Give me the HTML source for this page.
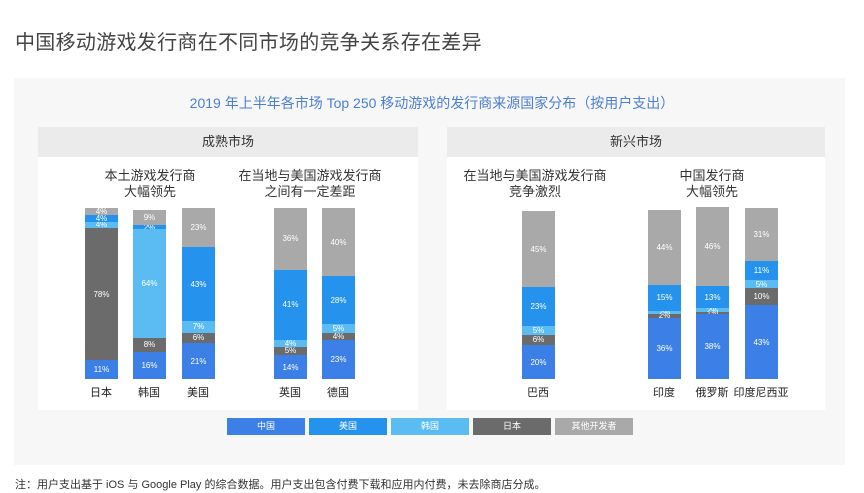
<!DOCTYPE html>
<html><head><meta charset="utf-8"><style>
*{margin:0;padding:0;box-sizing:border-box}
body{width:864px;height:493px;background:#fff;position:relative;overflow:hidden;font-family:"Liberation Sans","Noto Sans CJK SC",sans-serif}
.abs{position:absolute}
.title{left:15px;top:26px;font-size:20px;color:#444;letter-spacing:0.3px}
.outer{left:14px;top:78px;width:831px;height:387px;background:#f7f7f8}
.sub{left:0;width:864px;top:93px;text-align:center;font-size:14px;color:#4a7fd4}
.panel{top:127px;height:283px;background:#fff}
.ph{position:absolute;left:0;right:0;top:0;height:30px;background:#ebebeb;text-align:center;font-size:13px;line-height:30px;color:#333}
.grp{font-size:13px;color:#333;text-align:center;line-height:16px}
.bar{position:absolute;width:33px;top:208px;height:171px;display:flex;flex-direction:column}
.bar div{color:#fff;font-size:8px;display:flex;align-items:center;justify-content:center;overflow:hidden}
.o{background:#a9a9a9}.u{background:#2592ee}.k{background:#5bbcf4}.j{background:#6b6b6b}.c{background:#3c7fe6}
.lab{position:absolute;top:384px;font-size:11px;color:#222;width:80px;text-align:center}
.lg{position:absolute;top:418px;width:78px;height:17px;color:#fff;font-size:9px;text-align:center;line-height:17px}
.note{left:15px;top:476px;font-size:11px;color:#333}
</style></head><body>
<div class="abs title">中国移动游戏发行商在不同市场的竞争关系存在差异</div>
<div class="abs outer"></div>
<div class="abs sub">2019 年上半年各市场 Top 250 移动游戏的发行商来源国家分布（按用户支出）</div>
<div class="abs panel" style="left:38px;width:380px"><div class="ph">成熟市场</div></div>
<div class="abs panel" style="left:447px;width:378px"><div class="ph">新兴市场</div></div>
<div class="abs grp" style="left:70px;width:160px;top:168px">本土游戏发行商<br>大幅领先</div>
<div class="abs grp" style="left:230px;width:160px;top:168px">在当地与美国游戏发行商<br>之间有一定差距</div>
<div class="abs grp" style="left:455px;width:160px;top:168px">在当地与美国游戏发行商<br>竞争激烈</div>
<div class="abs grp" style="left:632px;width:160px;top:168px">中国发行商<br>大幅领先</div>

<div class="bar" style="left:85px"><div class="o" style="flex:4">4%</div><div class="u" style="flex:4">4%</div><div class="k" style="flex:4">4%</div><div class="j" style="flex:78">78%</div><div class="c" style="flex:11">11%</div></div>
<div class="bar" style="left:133px;top:210px;height:169px"><div class="o" style="flex:9">9%</div><div class="u" style="flex:2">2%</div><div class="k" style="flex:64">64%</div><div class="j" style="flex:8">8%</div><div class="c" style="flex:16">16%</div></div>
<div class="bar" style="left:182px"><div class="o" style="flex:23">23%</div><div class="u" style="flex:43">43%</div><div class="k" style="flex:7">7%</div><div class="j" style="flex:6">6%</div><div class="c" style="flex:21">21%</div></div>
<div class="bar" style="left:274px"><div class="o" style="flex:36">36%</div><div class="u" style="flex:41">41%</div><div class="k" style="flex:4">4%</div><div class="j" style="flex:5">5%</div><div class="c" style="flex:14">14%</div></div>
<div class="bar" style="left:322px"><div class="o" style="flex:40">40%</div><div class="u" style="flex:28">28%</div><div class="k" style="flex:5">5%</div><div class="j" style="flex:4">4%</div><div class="c" style="flex:23">23%</div></div>

<div class="bar" style="left:522px;top:211px;height:168px"><div class="o" style="flex:45">45%</div><div class="u" style="flex:23">23%</div><div class="k" style="flex:5">5%</div><div class="j" style="flex:6">6%</div><div class="c" style="flex:20">20%</div></div>
<div class="bar" style="left:648px;top:210px;height:169px"><div class="o" style="flex:44">44%</div><div class="u" style="flex:15">15%</div><div class="k" style="flex:2">2%</div><div class="j" style="flex:2">2%</div><div class="c" style="flex:36">36%</div></div>
<div class="bar" style="left:696px;top:207px;height:172px"><div class="o" style="flex:46">46%</div><div class="u" style="flex:13">13%</div><div class="k" style="flex:2">2%</div><div class="j" style="flex:1">1%</div><div class="c" style="flex:38">38%</div></div>
<div class="bar" style="left:745px"><div class="o" style="flex:31">31%</div><div class="u" style="flex:11">11%</div><div class="k" style="flex:5">5%</div><div class="j" style="flex:10">10%</div><div class="c" style="flex:43">43%</div></div>

<div class="lab" style="left:61px">日本</div>
<div class="lab" style="left:109px">韩国</div>
<div class="lab" style="left:158px">美国</div>
<div class="lab" style="left:250px">英国</div>
<div class="lab" style="left:298px">德国</div>
<div class="lab" style="left:498px">巴西</div>
<div class="lab" style="left:624px">印度</div>
<div class="lab" style="left:672px">俄罗斯</div>
<div class="lab" style="left:721px">印度尼西亚</div>

<div class="lg c" style="left:227px">中国</div>
<div class="lg u" style="left:309px">美国</div>
<div class="lg k" style="left:391px">韩国</div>
<div class="lg j" style="left:473px">日本</div>
<div class="lg o" style="left:555px">其他开发者</div>

<div class="abs note">注：用户支出基于 iOS 与 Google Play 的综合数据。用户支出包含付费下载和应用内付费，未去除商店分成。</div>
</body></html>
